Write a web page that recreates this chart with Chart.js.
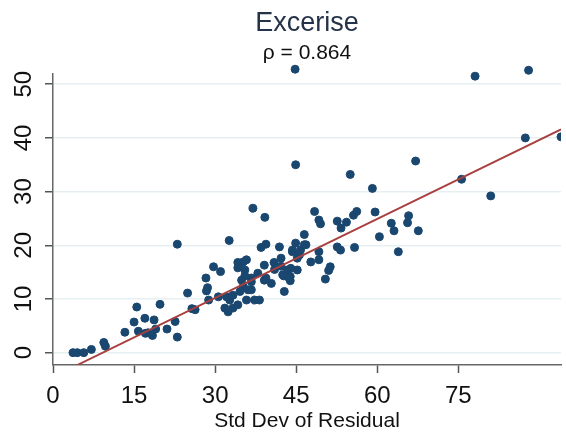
<!DOCTYPE html>
<html>
<head>
<meta charset="utf-8">
<script src="https://cdn.jsdelivr.net/npm/chart.js@4.4.1/dist/chart.umd.min.js"></script>
<style>
  html, body { margin: 0; padding: 0; background: #fff; }
  #c { display: block; }
</style>
</head>
<body>
<canvas id="c" width="566" height="432"></canvas>
<script>
// values
const titleText = "Excerise";
const subtitleText = "ρ = 0.864";
const xTitle = "Std Dev of Residual";
const xTicks = [0, 15, 30, 45, 60, 75];
const yTicks = [0, 10, 20, 30, 40, 50];

const xVals = [
  3.7, 4.5, 5.7, 7.1, 9.4, 9.7, 13.3, 15.0, 15.5, 15.8, 17.0, 17.1, 17.6, 18.4, 18.7, 19.0,
  19.8, 21.1, 22.6, 23.0, 23.0, 24.9, 25.7, 26.3, 28.3, 28.6, 28.4, 28.8, 29.7, 31.0, 30.6,
  32.1, 32.7, 31.8, 32.4, 33.3, 34.2, 32.6, 34.6, 34.2, 35.2, 35.8, 34.2, 35.5, 34.9, 35.2,
  36.7, 34.6, 35.8, 37.0, 39.2, 38.5, 39.4, 37.9, 36.7, 39.4, 40.4, 39.1, 40.9, 38.2, 41.9,
  42.2, 42.2, 42.5, 43.4, 42.8, 42.7, 43.9, 43.9, 44.0, 45.2, 44.3, 45.6, 44.9, 46.8, 44.3,
  45.8, 45.2, 46.5, 47.7, 48.4, 49.2, 49.5, 49.2, 49.2, 51.3, 51.0, 50.4, 52.6, 53.3, 54.3,
  55.6, 56.2, 52.6, 53.2, 55.8, 55.0, 59.1, 59.6, 60.4, 62.6, 63.1, 63.9, 65.8, 65.6, 67.6,
  67.1, 75.6, 78.1, 81.0, 87.4, 88.0, 94.0, 44.8, 44.9, 35.5, 36.7, 39.1, 43.7, 33.3, 36.1,
  37.3, 41.0, 46.5
];
const yVals = [
  0.0, 0.0, 0.0, 0.6, 1.9, 1.2, 3.8, 5.7, 8.5, 4.0, 6.4, 3.6, 3.7, 3.2, 6.1, 4.4,
  9.0, 4.4, 5.8, 2.9, 20.2, 11.1, 8.2, 8.0, 13.9, 12.1, 11.5, 9.8, 16.0, 15.1, 10.4,
  10.4, 9.8, 8.3, 7.6, 8.3, 8.9, 20.9, 16.6, 16.8, 16.9, 17.3, 15.8, 15.4, 13.5, 12.3,
  11.7, 11.4, 9.8, 26.9, 25.2, 19.6, 20.2, 14.8, 13.9, 13.9, 12.9, 16.3, 16.8, 9.8, 19.7,
  17.6, 16.1, 14.5, 15.4, 11.4, 14.3, 14.2, 13.4, 15.7, 15.4, 18.8, 18.2, 20.4, 20.1, 19.1,
  19.1, 17.6, 22.0, 16.9, 26.3, 24.7, 24.0, 18.8, 17.3, 16.0, 15.3, 13.7, 24.5, 23.2, 24.3,
  25.6, 26.3, 19.7, 19.1, 19.6, 33.2, 30.6, 26.2, 21.6, 24.1, 22.7, 18.8, 25.5, 24.2, 22.7,
  35.7, 32.3, 51.5, 29.2, 40.0, 52.6, 40.2, 52.8, 35.0, 14.3, 13.2, 13.5, 13.9, 10.7, 11.7,
  9.8, 15.5, 20.1
];

// fitted line, read at its two visible ends
const fitX = [4.3, 94.0];
const fitY = [-2.4, 41.6];

const font = "'Liberation Sans', Arial, sans-serif";

// titles and the rotated y labels, centred on the plot area
const titles = {
  id: "titles",
  afterDraw(chart) {
    const ctx = chart.ctx;
    const a = chart.chartArea;
    const cx = (a.left + a.right) / 2;
    ctx.save();
    ctx.textAlign = "center";
    ctx.textBaseline = "alphabetic";
    ctx.fillStyle = "#243349";
    ctx.font = "27px " + font;
    ctx.fillText(titleText, cx, 31);
    ctx.fillStyle = "#111";
    ctx.font = "21px " + font;
    ctx.fillText(subtitleText, cx, 59);
    ctx.fillText(xTitle, cx, 427);

    const ys = chart.scales.y;
    ctx.font = "24px " + font;
    ys.ticks.forEach((t) => {
      const py = ys.getPixelForValue(t.value);
      ctx.save();
      ctx.translate(31, py);
      ctx.rotate(-Math.PI / 2);
      ctx.fillText(String(t.value), 0, 0);
      ctx.restore();
    });
    ctx.restore();
  },
};

new Chart(document.getElementById("c"), {
  type: "scatter",
  data: {
    datasets: [
      {
        data: xVals.map((x, i) => ({ x: x, y: yVals[i] })),
        backgroundColor: "#1a476f",
        borderColor: "#1a476f",
        pointRadius: 4,
        pointHoverRadius: 4,
        clip: { left: 0, top: 20, right: 0, bottom: 0 },
        order: 1,
      },
      {
        type: "line",
        data: fitX.map((x, i) => ({ x: x, y: fitY[i] })),
        borderColor: "#a8403f",
        borderWidth: 2,
        pointRadius: 0,
        fill: false,
        order: 0,
      },
    ],
  },
  options: {
    responsive: false,
    animation: false,
    layout: { padding: { top: 73.5, right: 0, left: 0, bottom: 0 } },
    plugins: { legend: { display: false }, tooltip: { enabled: false } },
    scales: {
      x: {
        type: "linear",
        min: 0,
        max: 94,
        afterBuildTicks: (s) => { s.ticks = xTicks.map((v) => ({ value: v })); },
        afterFit: (s) => { s.height = 67; },
        ticks: {
          font: { family: font, size: 24 },
          color: "#111",
          padding: 9,
          maxRotation: 0,
          autoSkip: false,
        },
        grid: {
          drawOnChartArea: false,
          tickLength: 8,
          tickColor: "#555",
          tickWidth: 1.5,
        },
        border: { color: "#666", width: 1.5 },
      },
      y: {
        min: -2.3,
        max: 52,
        afterBuildTicks: (s) => { s.ticks = yTicks.map((v) => ({ value: v })); },
        afterFit: (s) => { s.width = 53; },
        ticks: { display: false },
        grid: {
          color: "#e6eff1",
          lineWidth: 1.5,
          tickLength: 8,
          tickColor: "#555",
          tickWidth: 1.5,
        },
        border: { color: "#666", width: 1.5 },
      },
    },
  },
  plugins: [titles],
});
</script>
</body>
</html>
